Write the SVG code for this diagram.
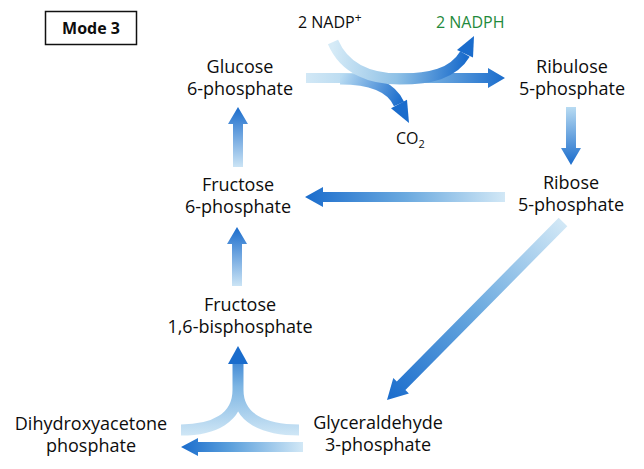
<svg xmlns="http://www.w3.org/2000/svg" width="644" height="469" viewBox="0 0 644 469">
<style>
text{font-family:"Open Sans","Noto Sans","Liberation Sans",sans-serif;fill:#0d0d0d;font-size:18px}
.c{text-anchor:middle}
.s{font-size:16px}
.head{fill:#1a6ccc}
.cv{fill:none;stroke-width:11;stroke-linecap:butt}
</style>
<defs>
<linearGradient id="gA" gradientUnits="userSpaceOnUse" x1="306" y1="0" x2="505" y2="0"><stop offset="0" stop-color="#d2e8f6"/><stop offset="0.45" stop-color="#9ccbea"/><stop offset="1" stop-color="#1a6ccc"/></linearGradient>
<linearGradient id="gB" gradientUnits="userSpaceOnUse" x1="333" y1="42" x2="466" y2="54"><stop offset="0" stop-color="#d6ebf7"/><stop offset="0.5" stop-color="#8fc1e6"/><stop offset="1" stop-color="#1a6ccc"/></linearGradient>
<linearGradient id="gC" gradientUnits="userSpaceOnUse" x1="340" y1="79" x2="400" y2="105"><stop offset="0" stop-color="#b8dbf2"/><stop offset="1" stop-color="#1a6ccc"/></linearGradient>
<linearGradient id="gD" gradientUnits="userSpaceOnUse" x1="0" y1="107" x2="0" y2="165"><stop offset="0" stop-color="#b8dbf2"/><stop offset="1" stop-color="#1a6ccc"/></linearGradient>
<linearGradient id="gE" gradientUnits="userSpaceOnUse" x1="0" y1="167" x2="0" y2="107"><stop offset="0" stop-color="#cbe4f5"/><stop offset="1" stop-color="#1a6ccc"/></linearGradient>
<linearGradient id="gF" gradientUnits="userSpaceOnUse" x1="505" y1="0" x2="305" y2="0"><stop offset="0" stop-color="#d2e8f6"/><stop offset="0.5" stop-color="#6aa9df"/><stop offset="1" stop-color="#1a6ccc"/></linearGradient>
<linearGradient id="gG" gradientUnits="userSpaceOnUse" x1="0" y1="286" x2="0" y2="227"><stop offset="0" stop-color="#cbe4f5"/><stop offset="1" stop-color="#1a6ccc"/></linearGradient>
<linearGradient id="gH" gradientUnits="userSpaceOnUse" x1="563" y1="222" x2="387" y2="400"><stop offset="0" stop-color="#d2e8f6"/><stop offset="0.5" stop-color="#6aa9df"/><stop offset="1" stop-color="#1a6ccc"/></linearGradient>
<linearGradient id="gI" gradientUnits="userSpaceOnUse" x1="0" y1="437" x2="0" y2="345"><stop offset="0" stop-color="#d2e8f6"/><stop offset="0.55" stop-color="#7db5e3"/><stop offset="1" stop-color="#1a6ccc"/></linearGradient>
<linearGradient id="gJ" gradientUnits="userSpaceOnUse" x1="303" y1="0" x2="181" y2="0"><stop offset="0" stop-color="#d2e8f6"/><stop offset="0.6" stop-color="#5a9fdc"/><stop offset="1" stop-color="#1a6ccc"/></linearGradient>
</defs>

<g id="mode-label">
<rect x="45.5" y="11.5" width="91" height="33" fill="#fff" stroke="#111" stroke-width="1.5"/>
<text x="91" y="34" class="c" style="font-weight:bold;font-size:16px">Mode 3</text>
</g>

<g id="connectors">
<!-- Glucose-6P -> Ribulose-5P -->
<polygon points="306,73 488,73 488,68 505,78 488,88 488,83 306,83" fill="url(#gA)"/>
<!-- branch to CO2 -->
<path class="cv" d="M340,79 C372,79 392,88 399,104" stroke="url(#gC)"/>
<polygon class="head" points="409,123 407,99.8 391,108.2"/>
<!-- NADP+ -> NADPH -->
<path class="cv" d="M333,42 C345,70 372,79 400,79 C430,79 453,74 465,54" stroke="url(#gB)"/>
<polygon class="head" points="474,36 473,57.6 457,50"/>
<!-- Ribulose -> Ribose -->
<polygon points="566,107 576,107 576,148 581,148 571,165 561,148 566,148" fill="url(#gD)"/>
<!-- Fructose-6P -> Glucose-6P -->
<polygon points="233,167 243,167 243,124 248,124 238,107 228,124 233,124" fill="url(#gE)"/>
<!-- Ribose -> Fructose-6P -->
<polygon points="505,192 323,192 323,187 305,197 323,207 323,202 505,202" fill="url(#gF)"/>
<!-- F1,6BP -> F6P -->
<polygon points="232,286 242,286 242,244 247,244 237,227 227,244 232,244" fill="url(#gG)"/>
<!-- Ribose -> Glyceraldehyde-3P -->
<polygon points="567.3,226.2 558.7,217.8 396.8,381.6 393.3,378.1 387,400 408.9,393.5 405.4,390" fill="url(#gH)"/>
<!-- DHAP + GAP -> F1,6BP -->
<path class="cv" d="M181,430 C214,430 238,418 238,390 L238,360 M299,430 C263,430 238,418 238,390" stroke="url(#gI)"/>
<polygon class="head" points="238,346 248,364 228,364"/>
<!-- GAP -> DHAP -->
<polygon points="303,442 198,442 198,438 181,447 198,456 198,452 303,452" fill="url(#gJ)"/>
</g>

<g id="nadp"><text x="298" y="28" class="s">2 NADP<tspan dy="-6" font-size="12">+</tspan></text></g>
<g id="nadph"><text x="436" y="28" class="s" style="fill:#1f8a3c">2 NADPH</text></g>
<g id="co2"><text x="396" y="144" class="s">CO<tspan dy="4" font-size="11">2</tspan></text></g>

<g id="glucose-6-phosphate"><text x="240" y="73" class="c">Glucose</text><text x="240" y="95" class="c">6-phosphate</text></g>
<g id="ribulose-5-phosphate"><text x="572" y="73" class="c">Ribulose</text><text x="572" y="95" class="c">5-phosphate</text></g>
<g id="fructose-6-phosphate"><text x="238" y="191" class="c">Fructose</text><text x="238" y="213" class="c">6-phosphate</text></g>
<g id="ribose-5-phosphate"><text x="571" y="189" class="c">Ribose</text><text x="571" y="211" class="c">5-phosphate</text></g>
<g id="fructose-1-6-bisphosphate"><text x="240" y="311" class="c">Fructose</text><text x="240" y="333" class="c">1,6-bisphosphate</text></g>
<g id="dihydroxyacetone-phosphate"><text x="91" y="430" class="c">Dihydroxyacetone</text><text x="91" y="452" class="c">phosphate</text></g>
<g id="glyceraldehyde-3-phosphate"><text x="378" y="429" class="c">Glyceraldehyde</text><text x="378" y="451" class="c">3-phosphate</text></g>
</svg>
